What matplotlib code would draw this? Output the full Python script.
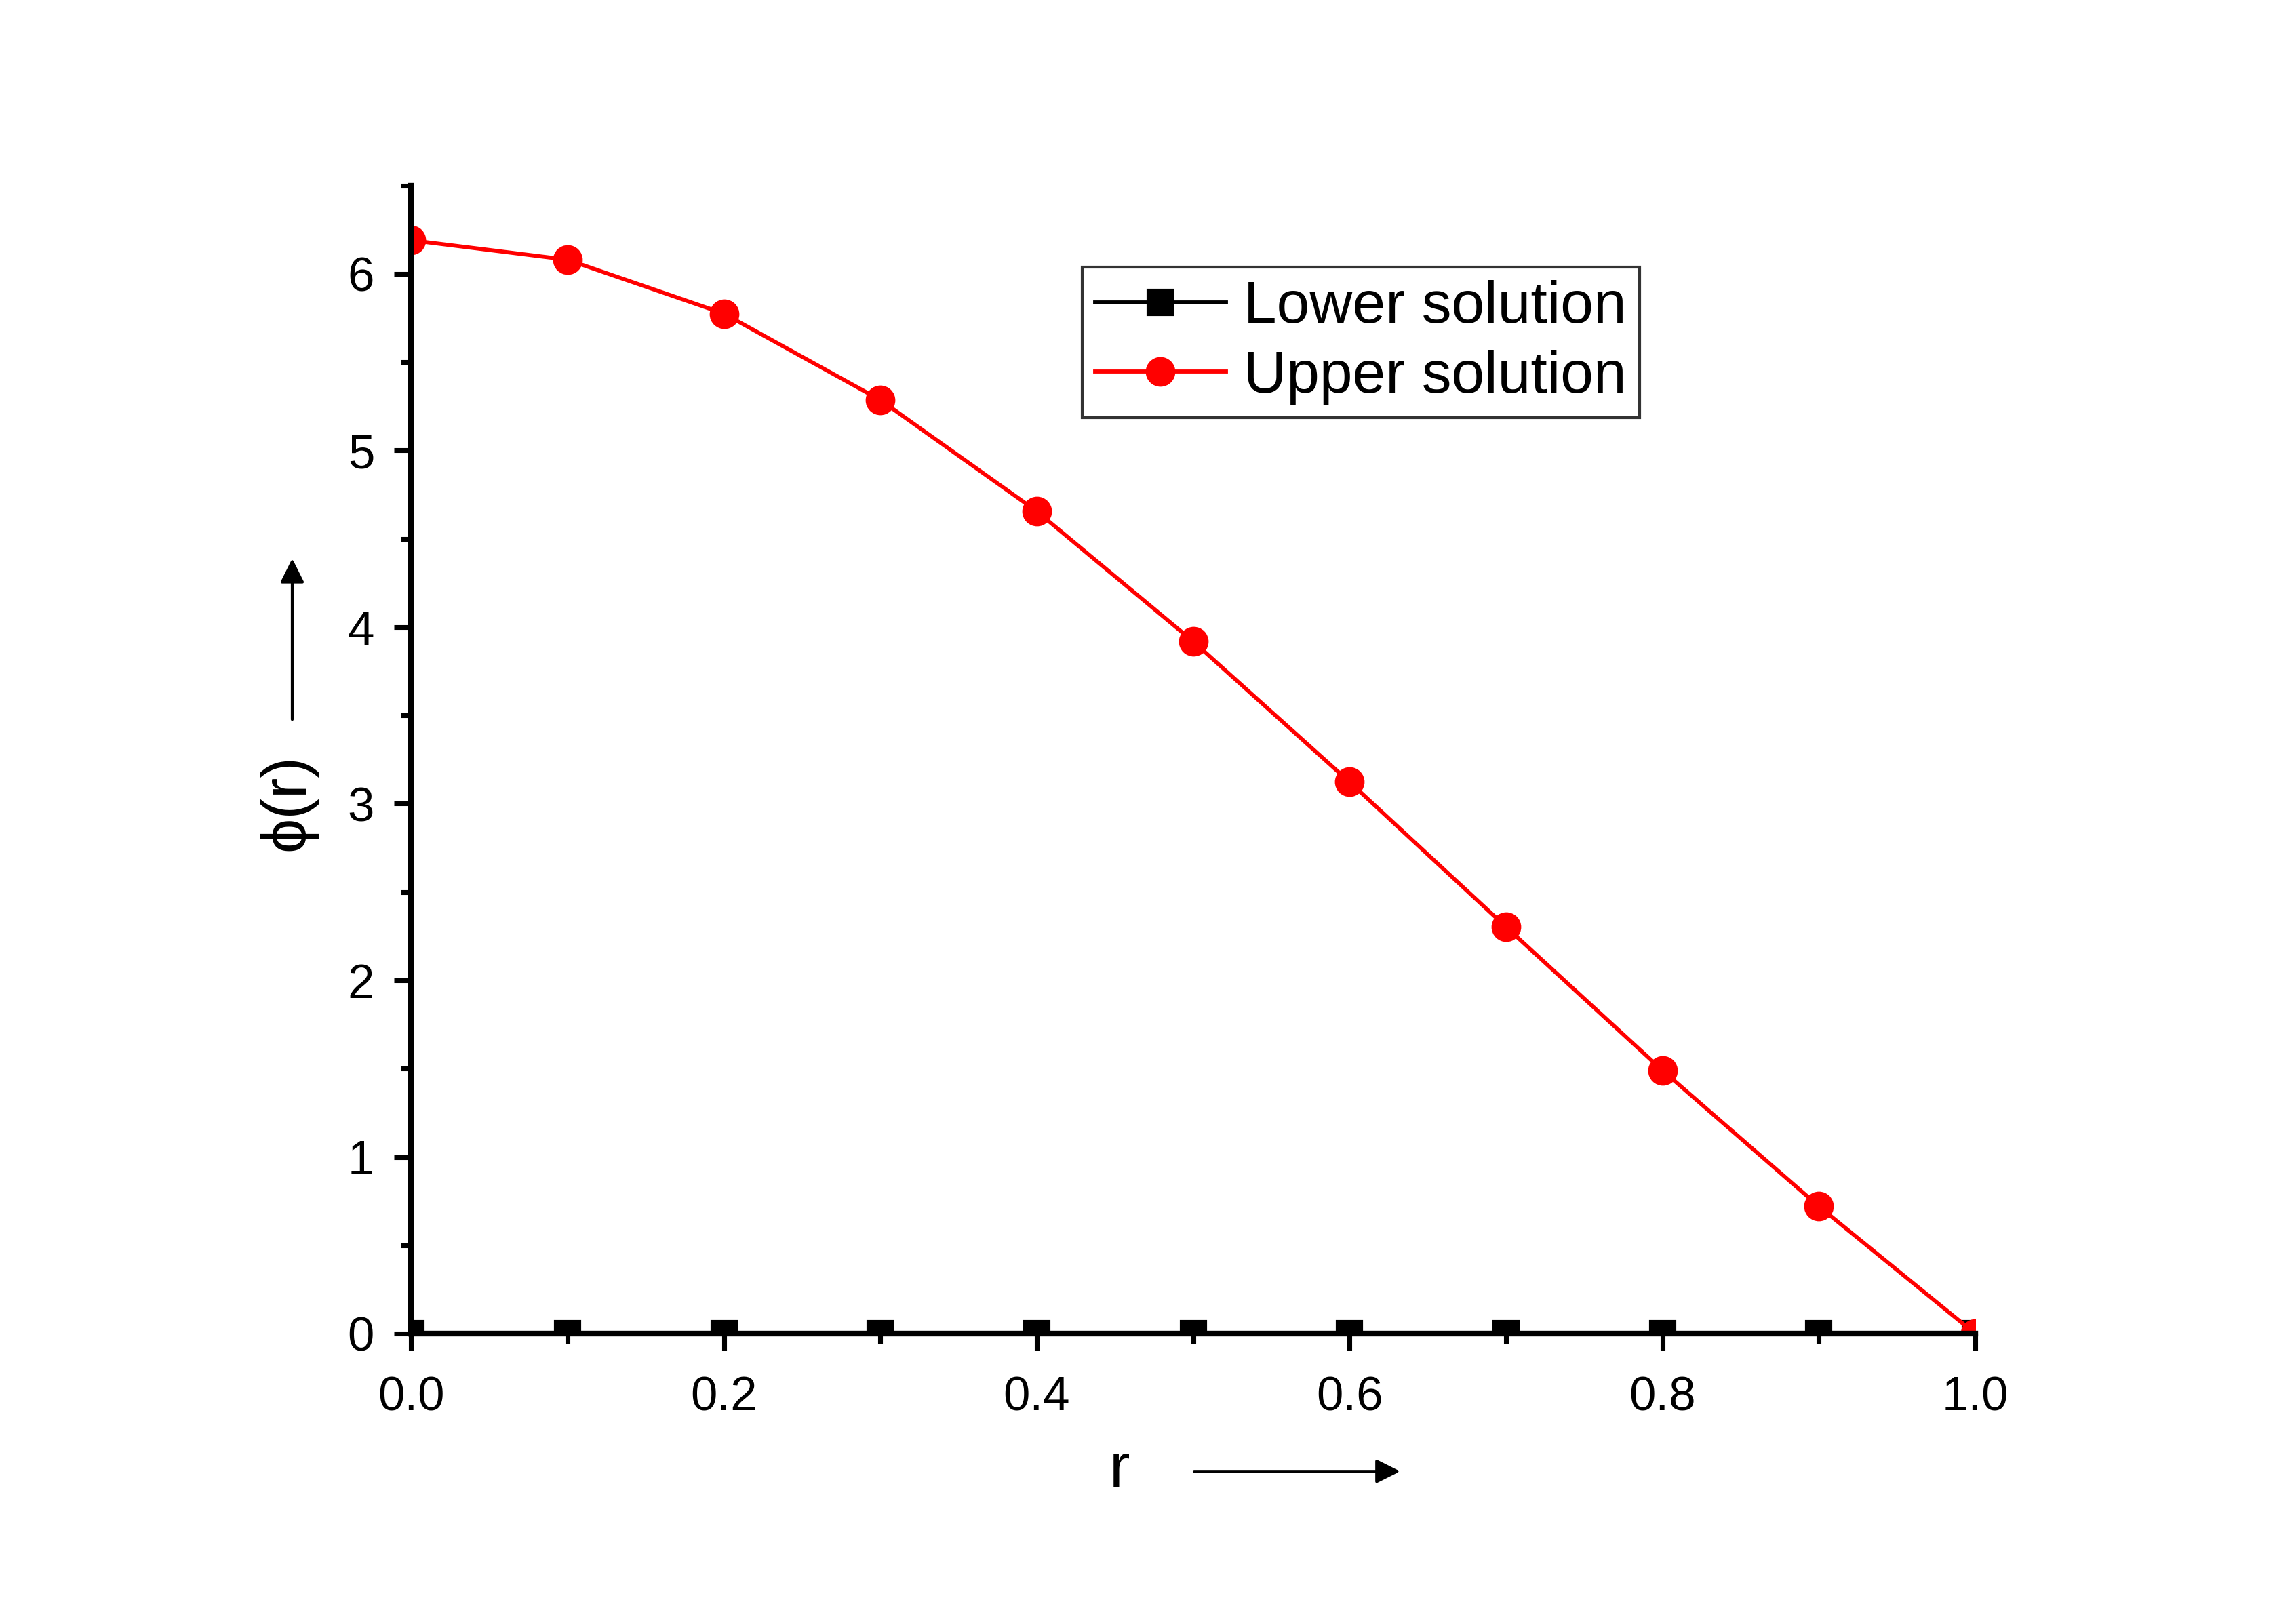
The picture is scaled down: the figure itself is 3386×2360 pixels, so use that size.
import matplotlib.pyplot as plt
from matplotlib.ticker import MultipleLocator

plt.rcParams['font.family'] = ['Liberation Sans', 'DejaVu Sans']

# data
r = [0.0, 0.1, 0.2, 0.3, 0.4, 0.5, 0.6, 0.7, 0.8, 0.9, 1.0]
lower = [0, 0, 0, 0, 0, 0, 0, 0, 0, 0, 0]
upper = [6.19, 6.08, 5.775, 5.286, 4.656, 3.919, 3.123, 2.303, 1.491, 0.721, 0.0]

fig = plt.figure(figsize=(11.29, 7.867), dpi=300)
ax = fig.add_axes([0.179, 0.1665, 0.681, 0.7175])

ax.plot(r, lower, color='black', lw=1.4, marker='s', ms=8.5, label='Lower solution')
ax.plot(r, upper, color='red', lw=1.4, marker='o', ms=9.5, label='Upper solution')

ax.set_xlim(0, 1.0)
ax.set_ylim(0, 6.5)
ax.xaxis.set_major_locator(MultipleLocator(0.2))
ax.xaxis.set_minor_locator(MultipleLocator(0.1))
ax.yaxis.set_major_locator(MultipleLocator(1))
ax.yaxis.set_minor_locator(MultipleLocator(0.5))
ax.xaxis.set_major_formatter(lambda v, p: f'{v:.1f}')

for s in ['top', 'right']:
    ax.spines[s].set_visible(False)
for s in ['left', 'bottom']:
    ax.spines[s].set_linewidth(2.0)
ax.tick_params(which='major', direction='out', length=6, width=1.7, labelsize=17)
ax.tick_params(axis='x', which='major', pad=9)
ax.tick_params(axis='y', which='major', pad=7)
ax.tick_params(which='minor', direction='out', length=3.5, width=1.7)

leg = ax.legend(loc='upper left', bbox_to_anchor=(0.429, 0.929), fontsize=21,
                frameon=True, fancybox=False, edgecolor='black', handlelength=2.2,
                handletextpad=0.3, borderpad=0.22, labelspacing=0.25, borderaxespad=0)
leg.get_frame().set_linewidth(1.0)

# axis labels with arrows
ax.text(0.453, -0.12, 'r', transform=ax.transAxes, fontsize=22, ha='center', va='center')
ax.annotate('', xy=(0.636, -0.12), xytext=(0.497, -0.12), xycoords='axes fraction',
            arrowprops=dict(arrowstyle='-|>', color='black', lw=1.0, mutation_scale=18),
            annotation_clip=False)
ax.text(-0.079, 0.463, 'ϕ(r)', transform=ax.transAxes, fontsize=22, ha='center',
        va='center', rotation=90)
ax.annotate('', xy=(-0.076, 0.68), xytext=(-0.076, 0.53), xycoords='axes fraction',
            arrowprops=dict(arrowstyle='-|>', color='black', lw=1.0, mutation_scale=18),
            annotation_clip=False)

fig.savefig('out.png')
